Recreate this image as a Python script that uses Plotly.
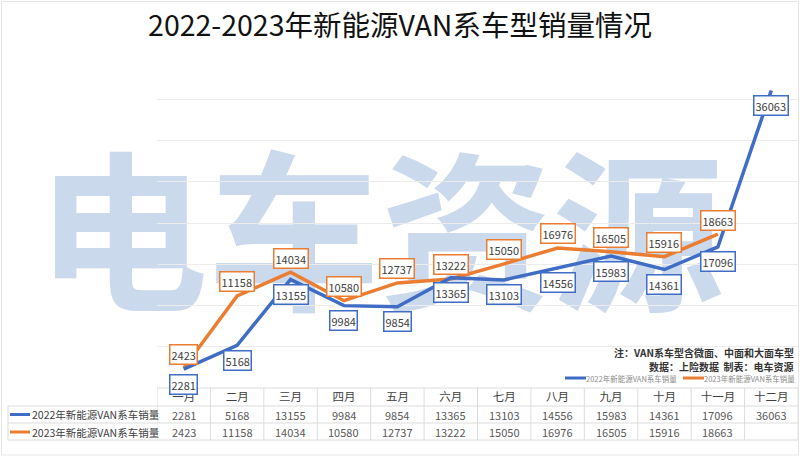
import plotly.graph_objects as go

months = ['一月', '二月', '三月', '四月', '五月', '六月', '七月', '八月', '九月', '十月', '十一月', '十二月']
sales_2022 = [2281, 5168, 13155, 9984, 9854, 13365, 13103, 14556, 15983, 14361, 17096, 36063]
sales_2023 = [2423, 11158, 14034, 10580, 12737, 13222, 15050, 16976, 16505, 15916, 18663, None]

name_2022 = '2022年新能源VAN系车销量'
name_2023 = '2023年新能源VAN系车销量'
blue = '#3F6CC4'
orange = '#EA7D32'
cjk = 'Noto Sans CJK SC'

# pixel -> paper helpers (plot area: x 157..798, y 58..388)
L, R, T, B = 157, 798, 58, 388
def px(x):
    return (x - L) / (R - L)
def py(y):
    return (B - y) / (B - T)

fig = go.Figure()
fig.add_trace(go.Scatter(x=months, y=sales_2023, mode='lines', name=name_2023,
                         line=dict(color=orange, width=3.5)))
fig.add_trace(go.Scatter(x=months, y=sales_2022, mode='lines', name=name_2022,
                         line=dict(color=blue, width=3.5)))

# boxed data labels
for m, v in zip(months, sales_2022):
    fig.add_annotation(x=m, y=v, text=str(v), showarrow=False, yshift=-15,
                       font=dict(size=11, color='#404040', family=cjk),
                       bordercolor=blue, borderwidth=1.5, borderpad=1, bgcolor='white')
for m, v in zip(months, sales_2023):
    if v is None:
        continue
    fig.add_annotation(x=m, y=v, text=str(v), showarrow=False, yshift=14,
                       font=dict(size=11, color='#404040', family=cjk),
                       bordercolor=orange, borderwidth=1.5, borderpad=1, bgcolor='white')

# data table under the chart
line_c = '#dcdcdc'
row_y = [414.5, 432]
for i, m in enumerate(months):
    fig.add_annotation(x=m, y=py(row_y[0]), yref='paper', yanchor='middle', text=str(sales_2022[i]),
                       showarrow=False, font=dict(size=11, color='#595959', family=cjk))
    if sales_2023[i] is not None:
        fig.add_annotation(x=m, y=py(row_y[1]), yref='paper', yanchor='middle', text=str(sales_2023[i]),
                           showarrow=False, font=dict(size=11, color='#595959', family=cjk))

for k in range(len(months) + 1):
    fig.add_shape(type='line', xref='x', yref='paper', x0=k - 0.5, x1=k - 0.5,
                  y0=py(388), y1=py(440), line=dict(color=line_c, width=1))
fig.add_shape(type='line', xref='paper', yref='paper', x0=0, x1=1, y0=py(388), y1=py(388),
              line=dict(color=line_c, width=1))
for yy in [406, 423, 440]:
    fig.add_shape(type='line', xref='paper', yref='paper', x0=px(8), x1=1, y0=py(yy), y1=py(yy),
                  line=dict(color=line_c, width=1))
fig.add_shape(type='line', xref='paper', yref='paper', x0=px(8), x1=px(8), y0=py(406), y1=py(440),
              line=dict(color=line_c, width=1))

for yy, c, nm in [(row_y[0], blue, name_2022), (row_y[1], orange, name_2023)]:
    fig.add_shape(type='line', xref='paper', yref='paper', x0=px(10), x1=px(30), y0=py(yy), y1=py(yy),
                  line=dict(color=c, width=3))
    fig.add_annotation(x=px(30), y=py(yy), xref='paper', yref='paper', xanchor='left', yanchor='middle',
                       text=nm, showarrow=False, font=dict(size=10.5, color='#404040', family=cjk))

# small legend above the table
for x0, c, nm in [(565, blue, name_2022), (683, orange, name_2023)]:
    fig.add_shape(type='line', xref='paper', yref='paper', x0=px(x0), x1=px(x0 + 21),
                  y0=py(378), y1=py(378), line=dict(color=c, width=3))
    fig.add_annotation(x=px(x0 + 21), y=py(378), xref='paper', yref='paper', xanchor='left',
                       yanchor='middle', text=nm, showarrow=False, xshift=-2,
                       font=dict(size=7.5, color='#8c8c8c', family=cjk))

# notes
fig.add_annotation(x=px(796), y=py(352), xref='paper', yref='paper', xanchor='right', yanchor='middle',
                   text='<b>注：VAN系车型含微面、中面和大面车型</b>', showarrow=False,
                   font=dict(size=10, color='#333333', family=cjk))
fig.add_annotation(x=px(796), y=py(366), xref='paper', yref='paper', xanchor='right', yanchor='middle',
                   text='<b>数据：上险数据  制表：电车资源</b>', showarrow=False,
                   font=dict(size=10, color='#333333', family=cjk))

# watermark
fig.add_shape(type='rect', xref='paper', yref='paper', x0=px(30), x1=px(730), y0=py(345), y1=py(155),
              line=dict(width=0), layer='below',
              label=dict(text='电车资源', textposition='middle center',
                         font=dict(size=172, color='#cad9eb', family=cjk, weight='bold')))

# outer frame
fig.add_shape(type='rect', xref='paper', yref='paper', x0=px(1.5), x1=px(798.5), y0=py(455), y1=py(1.5),
              line=dict(color='#e6e6e6', width=1))

fig.update_xaxes(type='category', range=[-0.5, 11.5], showgrid=False, showline=False, ticks='',
                 automargin=False, ticklabelstandoff=0,
                 tickfont=dict(size=11.5, color='#404040', family=cjk), fixedrange=True)
fig.update_yaxes(range=[0, 40000], dtick=5000, showgrid=True, gridcolor='#ececec', gridwidth=1,
                 automargin=False,
                 showticklabels=False, zeroline=False, fixedrange=True)

fig.update_layout(
    width=800, height=457,
    margin=dict(l=L, r=800 - R, t=T, b=457 - B),
    paper_bgcolor='white', plot_bgcolor='rgba(0,0,0,0)',
    font=dict(family=cjk),
    title=dict(text='2022-2023年新能源VAN系车型销量情况', x=0.5, xref='container', xanchor='center',
               y=1 - 26 / 457, yanchor='middle',
               font=dict(size=28.5, color='#111111', family=cjk)),
    showlegend=False,
)

fig.write_html('out.html', config={'displayModeBar': False},
               post_script="document.body.style.margin='0';")
